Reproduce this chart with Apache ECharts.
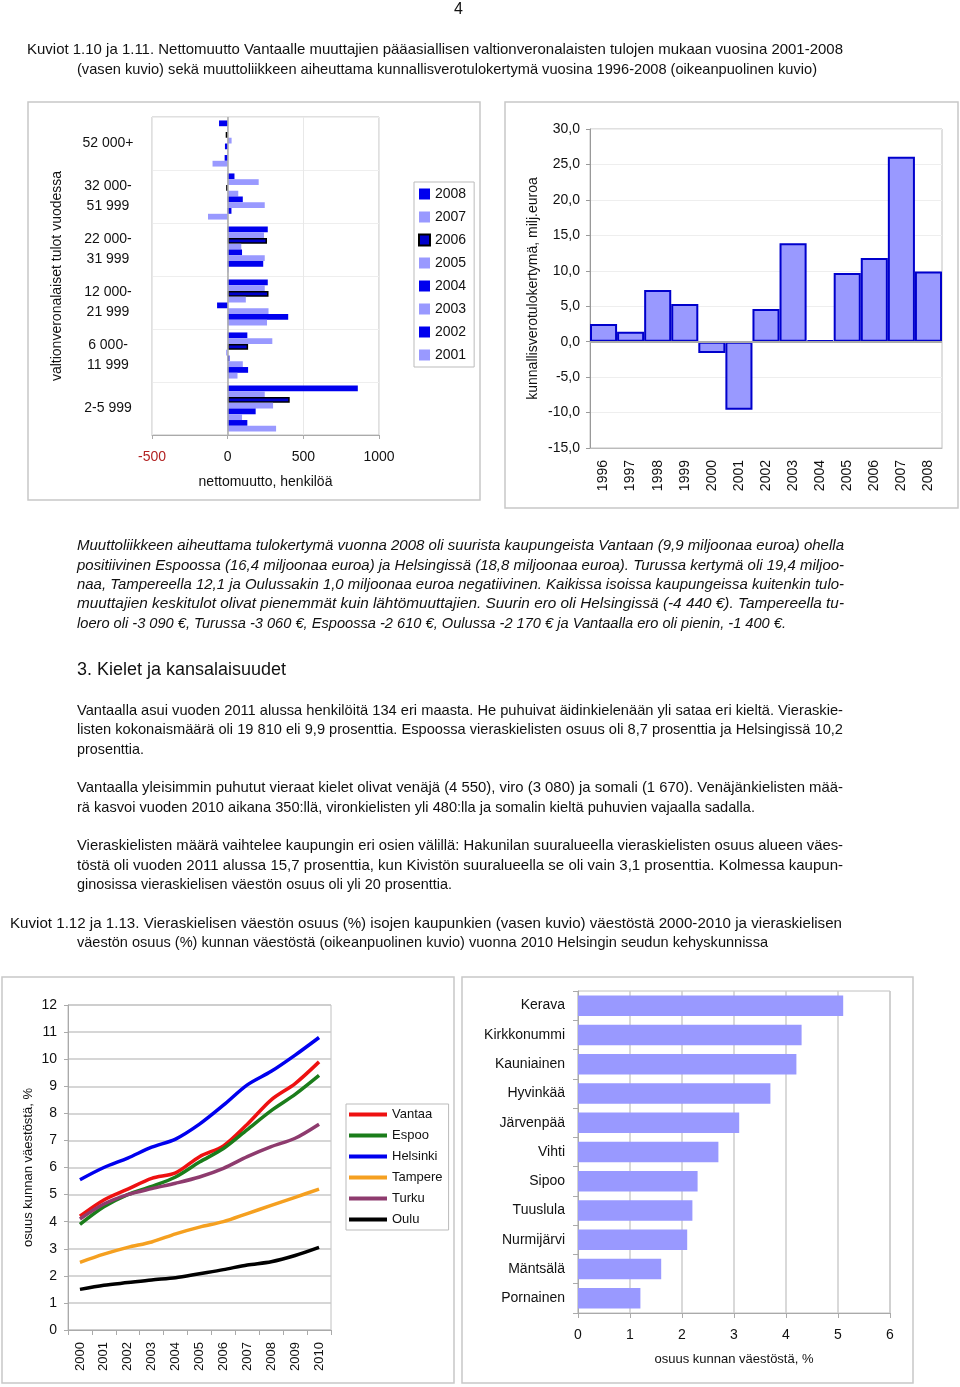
<!DOCTYPE html>
<html><head><meta charset="utf-8">
<script src="https://cdn.jsdelivr.net/npm/echarts@6/dist/echarts.min.js"></script>
<style>
html,body{margin:0;padding:0;background:#fff;}
#page{position:relative;width:960px;height:1387px;overflow:hidden;}
#chart{position:absolute;left:0;top:0;width:960px;height:1387px;}
.ln{position:absolute;white-space:nowrap;line-height:1;color:#111;font-family:"Liberation Sans Narrow","Liberation Sans",Arial,sans-serif;transform-origin:0 0;z-index:5;}
</style></head>
<body><div id="page"><div id="chart"></div></div>
<script>
// ---------- data ----------
const incomeBins = ['2-5 999', '6 000-\n11 999', '12 000-\n21 999', '22 000-\n31 999', '32 000-\n51 999', '52 000+'];
const migYears = ['2008', '2007', '2006', '2005', '2004', '2003', '2002', '2001'];
const mig2008 = [860, 130, 265, 265, 45, -57];
const mig2007 = [245, 295, 245, 240, 205, -3];
const mig2006 = [410, 135, 270, 260, -10, -13];
const mig2005 = [300, -10, 120, 90, 70, 26];
const mig2004 = [185, 12, -70, 95, 100, -18];
const mig2003 = [95, 100, 270, 245, 245, -3];
const mig2002 = [130, 135, 400, 235, 25, -20];
const mig2001 = [320, 65, 260, 5, -130, -100];
const migValues = [mig2008, mig2007, mig2006, mig2005, mig2004, mig2003, mig2002, mig2001];

const taxYears = ['1996','1997','1998','1999','2000','2001','2002','2003','2004','2005','2006','2007','2008'];
const taxValues = [2.5, 1.4, 7.3, 5.3, -1.6, -9.6, 4.6, 13.9, 0.2, 9.7, 11.8, 26.1, 9.9];

const lineYears = ['2000','2001','2002','2003','2004','2005','2006','2007','2008','2009','2010'];
const cities = ['Vantaa', 'Espoo', 'Helsinki', 'Tampere', 'Turku', 'Oulu'];
const vantaa   = [4.2, 4.8, 5.2, 5.6, 5.8, 6.4, 6.8, 7.6, 8.5, 9.1, 9.9];
const espoo    = [3.9, 4.55, 5.0, 5.3, 5.65, 6.2, 6.7, 7.4, 8.1, 8.7, 9.4];
const helsinki = [5.55, 6.0, 6.35, 6.75, 7.05, 7.6, 8.3, 9.05, 9.55, 10.15, 10.8];
const tampere  = [2.5, 2.8, 3.05, 3.25, 3.55, 3.8, 4.0, 4.3, 4.6, 4.9, 5.2];
const turku    = [4.1, 4.65, 5.0, 5.22, 5.42, 5.65, 5.97, 6.4, 6.77, 7.08, 7.6];
const oulu     = [1.5, 1.65, 1.75, 1.85, 1.93, 2.08, 2.23, 2.4, 2.52, 2.75, 3.05];
const cityValues = [vantaa, espoo, helsinki, tampere, turku, oulu];

const munis = ['Kerava','Kirkkonummi','Kauniainen','Hyvinkää','Järvenpää','Vihti','Sipoo','Tuuslula','Nurmijärvi','Mäntsälä','Pornainen'];
const muniValues = [5.1, 4.3, 4.2, 3.7, 3.1, 2.7, 2.3, 2.2, 2.1, 1.6, 1.2];

// ---------- text ----------
// [text, x, yCenter, targetWidth (0 = natural), fontSize, italic]
const textLines = [
 ['4', 454, 10, 0, 16, false],
 ['Kuviot  1.10 ja 1.11. Nettomuutto Vantaalle muuttajien pääasiallisen valtionveronalaisten tulojen mukaan vuosina 2001-2008', 27, 50, 816, 14.5, false],
 ['(vasen kuvio) sekä muuttoliikkeen aiheuttama kunnallisverotulokertymä vuosina 1996-2008 (oikeanpuolinen kuvio)', 77, 70, 740, 14.5, false],
 ['Muuttoliikkeen aiheuttama tulokertymä vuonna 2008 oli suurista kaupungeista Vantaan (9,9 miljoonaa euroa)  ohella', 77, 546, 767, 14.5, true],
 ['positiivinen Espoossa (16,4 miljoonaa euroa) ja Helsingissä (18,8 miljoonaa euroa). Turussa kertymä oli 19,4 miljoo-', 77, 566, 767, 14.5, true],
 ['naa, Tampereella 12,1 ja Oulussakin 1,0 miljoonaa euroa negatiivinen. Kaikissa isoissa kaupungeissa kuitenkin tulo-', 77, 585, 767, 14.5, true],
 ['muuttajien keskitulot olivat pienemmät kuin lähtömuuttajien. Suurin ero oli Helsingissä (-4 440 €). Tampereella tu-', 77, 604, 767, 14.5, true],
 ['loero oli -3 090 €, Turussa -3 060 €, Espoossa -2 610 €, Oulussa -2 170 € ja Vantaalla ero oli pienin, -1 400 €.', 77, 624, 709, 14.5, true],
 ['3. Kielet ja kansalaisuudet', 77, 670, 209, 18, false],
 ['Vantaalla asui vuoden 2011 alussa henkilöitä 134 eri maasta. He puhuivat äidinkielenään yli sataa eri kieltä. Vieraskie-', 77, 711, 766, 14.5, false],
 ['listen kokonaismäärä oli 19 810 eli 9,9 prosenttia. Espoossa vieraskielisten osuus oli 8,7 prosenttia ja Helsingissä 10,2', 77, 730, 766, 14.5, false],
 ['prosenttia.', 77, 750, 67, 14.5, false],
 ['Vantaalla yleisimmin puhutut vieraat kielet olivat venäjä (4 550), viro (3 080) ja somali (1 670). Venäjänkielisten mää-', 77, 788, 766, 14.5, false],
 ['rä kasvoi vuoden 2010 aikana 350:llä, vironkielisten yli 480:lla ja somalin kieltä puhuvien vajaalla sadalla.', 77, 808, 678, 14.5, false],
 ['Vieraskielisten määrä vaihtelee kaupungin eri osien välillä: Hakunilan suuralueella vieraskielisten osuus alueen väes-', 77, 846, 766, 14.5, false],
 ['töstä oli vuoden 2011 alussa 15,7 prosenttia, kun Kivistön suuralueella se oli vain 3,1 prosenttia. Kolmessa kaupun-', 77, 866, 766, 14.5, false],
 ['ginosissa vieraskielisen väestön osuus oli yli 20 prosenttia.', 77, 885, 375, 14.5, false],
 ['Kuviot 1.12 ja 1.13. Vieraskielisen väestön osuus (%) isojen kaupunkien (vasen kuvio) väestöstä 2000-2010 ja vieraskielisen', 10, 924, 832, 14.5, false],
 ['väestön osuus (%) kunnan väestöstä (oikeanpuolinen kuvio) vuonna 2010 Helsingin seudun kehyskunnissa', 77, 943, 691, 14.5, false]
];

const page = document.getElementById('page');
textLines.forEach(function (t) {
  const d = document.createElement('div');
  d.className = 'ln';
  d.textContent = t[0];
  d.style.fontSize = t[4] + 'px';
  d.style.left = t[1] + 'px';
  d.style.top = (t[2] - t[4] * 0.55) + 'px';
  if (t[5]) d.style.fontStyle = 'italic';
  page.appendChild(d);
  if (t[3] > 0) {
    const w = d.getBoundingClientRect().width;
    d.style.transform = 'scaleX(' + (t[3] / w) + ')';
  }
});

// ---------- chart ----------
const chart = echarts.init(document.getElementById('chart'), null, {renderer: 'canvas'});
const dark = '#0000ee', light = '#9999ff';
const migColors = [dark, light, '#0000cc', light, dark, light, dark, light];

const migSeries = migYears.map(function (y, i) {
  const s = {
    name: y, type: 'bar', xAxisIndex: 0, yAxisIndex: 0,
    data: migValues[i], barGap: '0%', barCategoryGap: '13%',
    itemStyle: {color: migColors[i]}
  };
  if (y === '2006') s.itemStyle = {color: '#0000cc', borderColor: '#000', borderWidth: 1.5};
  if (i === 0) s.markLine = {silent: true, symbol: 'none', label: {show: false},
    lineStyle: {color: '#aaa', width: 1.5, type: 'solid'}, data: [{xAxis: 0}]};
  return s;
});

const cityColors = ['#ee1111', '#1b7d1b', '#0000ee', '#f5a020', '#8e3b6e', '#000000'];
const citySeries = cities.map(function (c, i) {
  return {
    name: c, type: 'line', xAxisIndex: 2, yAxisIndex: 2, data: cityValues[i],
    smooth: 0.3, showSymbol: false, symbol: 'none',
    lineStyle: {color: cityColors[i], width: 3.5},
    itemStyle: {color: cityColors[i]}
  };
});

const txt = '#111';
const option = {
  animation: false,
  textStyle: {fontFamily: 'Liberation Sans, Arial, sans-serif', color: txt},
  graphic: [
    {type: 'rect', z: -10, shape: {x: 28, y: 102, width: 452, height: 398}, style: {fill: 'none', stroke: '#c8c8c8', lineWidth: 1.5}},
    {type: 'rect', z: -10, shape: {x: 505, y: 102, width: 453, height: 406}, style: {fill: 'none', stroke: '#c8c8c8', lineWidth: 1.5}},
    {type: 'rect', z: -10, shape: {x: 2, y: 977, width: 452, height: 406}, style: {fill: 'none', stroke: '#c8c8c8', lineWidth: 1.5}},
    {type: 'rect', z: -10, shape: {x: 462, y: 977, width: 451, height: 406}, style: {fill: 'none', stroke: '#c8c8c8', lineWidth: 1.5}}
  ],
  grid: [
    {left: 152, top: 117, width: 227, height: 318, show: true, borderColor: '#c0c0c0', borderWidth: 1},
    {left: 590, top: 129, width: 352, height: 319, show: true, borderColor: '#c0c0c0', borderWidth: 1},
    {left: 68, top: 1005, width: 263, height: 325, show: true, borderColor: '#c0c0c0', borderWidth: 1},
    {left: 578, top: 991, width: 312, height: 322, show: true, borderColor: '#c0c0c0', borderWidth: 1}
  ],
  legend: [
    {data: migYears, orient: 'vertical', left: 414, top: 182, icon: 'rect',
     itemWidth: 11, itemHeight: 11, itemGap: 9, itemTextGap: 4, padding: [5, 8, 5, 4],
     borderColor: '#bbb', borderWidth: 1, textStyle: {fontSize: 14, color: txt}},
    {data: cities, orient: 'vertical', left: 346, top: 1104, icon: 'rect',
     itemWidth: 38, itemHeight: 4, itemGap: 8, itemTextGap: 3, padding: [4, 6, 4, 3],
     borderColor: '#bbb', borderWidth: 1, textStyle: {fontSize: 13, color: txt}}
  ],
  xAxis: [
    {gridIndex: 0, type: 'value', min: -500, max: 1000, interval: 500,
     axisLine: {show: true, lineStyle: {color: '#aaa'}}, axisTick: {show: true, length: 4, lineStyle: {color: '#aaa'}},
     splitLine: {lineStyle: {color: '#e8e8e8'}},
     axisLabel: {margin: 15, fontSize: 14, formatter: function (v) { return String(v); },
       color: function (v) { return Number(v) < 0 ? '#b22222' : txt; }},
     name: 'nettomuutto, henkilöä', nameLocation: 'middle', nameGap: 40, nameTextStyle: {fontSize: 14, color: txt}},
    {gridIndex: 1, type: 'category', data: taxYears,
     axisLine: {onZero: false, lineStyle: {color: '#bbb'}}, axisTick: {show: false},
     axisLabel: {rotate: 90, margin: 12, fontSize: 14, color: txt, interval: 0}},
    {gridIndex: 2, type: 'category', data: lineYears, boundaryGap: true,
     axisLine: {lineStyle: {color: '#aaa'}}, axisTick: {show: true, length: 5, lineStyle: {color: '#aaa'}},
     axisLabel: {rotate: 90, margin: 12, fontSize: 13, color: txt, interval: 0}},
    {gridIndex: 3, type: 'value', min: 0, max: 6, interval: 1,
     axisLine: {show: true, lineStyle: {color: '#aaa'}}, axisTick: {show: true, length: 5, lineStyle: {color: '#aaa'}},
     splitLine: {lineStyle: {color: '#ccc', width: 1.5}},
     axisLabel: {margin: 15, fontSize: 14, color: txt},
     name: 'osuus kunnan väestöstä, %', nameLocation: 'middle', nameGap: 40, nameTextStyle: {fontSize: 13, color: txt}}
  ],
  yAxis: [
    {gridIndex: 0, type: 'category', data: incomeBins,
     axisLine: {show: false, onZero: false}, axisTick: {show: false},
     splitLine: {show: true, lineStyle: {color: '#eee'}},
     axisLabel: {margin: 44, align: 'center', fontSize: 14, lineHeight: 20, color: txt},
     name: 'valtionveronalaiset tulot vuodessa', nameLocation: 'middle', nameRotate: 90, nameGap: 88,
     nameTextStyle: {fontSize: 14, color: txt}},
    {gridIndex: 1, type: 'value', min: -15, max: 30, interval: 5,
     axisLine: {show: true, lineStyle: {color: '#999'}}, axisTick: {show: true, length: 4, lineStyle: {color: '#999'}},
     splitLine: {lineStyle: {color: '#eee'}},
     axisLabel: {margin: 10, fontSize: 14, color: txt, formatter: function (v) { return v.toFixed(1).replace('.', ','); }},
     name: 'kunnallisverotulokertymä, milj.euroa', nameLocation: 'middle', nameRotate: 90, nameGap: 50,
     nameTextStyle: {fontSize: 14, color: txt}},
    {gridIndex: 2, type: 'value', min: 0, max: 12, interval: 1,
     axisLine: {show: true, lineStyle: {color: '#aaa'}}, axisTick: {show: true, length: 4, lineStyle: {color: '#aaa'}},
     splitLine: {lineStyle: {color: '#c8c8c8', width: 1.5}},
     axisLabel: {margin: 11, fontSize: 14, color: txt},
     name: 'osuus kunnan väestöstä, %', nameLocation: 'middle', nameRotate: 90, nameGap: 33,
     nameTextStyle: {fontSize: 13, color: txt}},
    {gridIndex: 3, type: 'category', data: munis, inverse: true,
     axisLine: {show: true, lineStyle: {color: '#aaa'}}, axisTick: {show: true, length: 5, lineStyle: {color: '#aaa'}},
     axisLabel: {margin: 13, fontSize: 14, color: txt}}
  ],
  series: migSeries.concat([
    {name: 'kertymä', type: 'bar', xAxisIndex: 1, yAxisIndex: 1, data: taxValues,
     barCategoryGap: '0%', itemStyle: {color: light, borderColor: '#0000cc', borderWidth: 2},
     markLine: {silent: true, symbol: 'none', label: {show: false},
       lineStyle: {color: '#aaa', width: 2, type: 'solid'}, data: [{yAxis: 0}]}},
  ]).concat(citySeries).concat([
    {name: 'osuus', type: 'bar', xAxisIndex: 3, yAxisIndex: 3, data: muniValues,
     barCategoryGap: '30%', itemStyle: {color: light}}
  ])
};
chart.setOption(option);
</script></body></html>
